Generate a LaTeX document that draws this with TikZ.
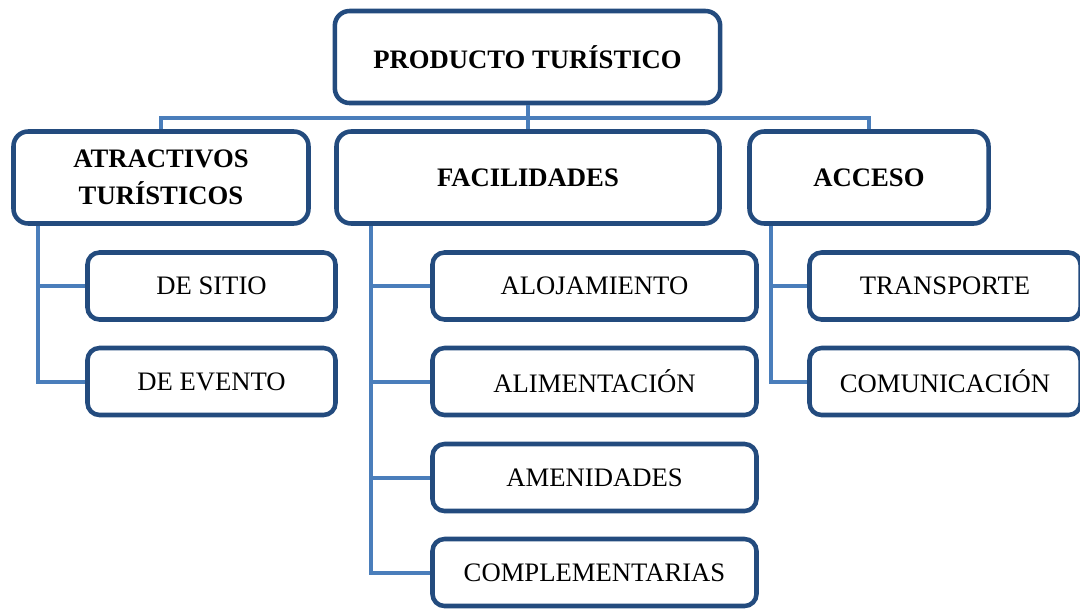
\documentclass[tikz,border=0pt]{standalone}
\usepackage{fontspec}
\setmainfont{Liberation Serif}
\usepackage{tikz}
\usetikzlibrary{positioning,calc}

\definecolor{boxblue}{HTML}{234B7E}
\definecolor{linkblue}{HTML}{4A7EBB}

\begin{document}
\begin{tikzpicture}[x=0.75pt, y=-0.75pt,
	headbox/.style={draw=boxblue, line width=3.4pt, rounded corners=11pt, fill=white, align=center, inner sep=0pt,
		font=\fontsize{20pt}{27.7pt}\selectfont\bfseries, minimum height=69pt},
	itembox/.style={draw=boxblue, line width=3.4pt, rounded corners=9pt, fill=white, align=center, inner sep=0pt,
		font=\fontsize{20pt}{24pt}\selectfont, minimum height=50.25pt},
	link/.style={draw=linkblue, line width=3pt}]
	\useasboundingbox (0,0) rectangle (1080,608);

	% level 0 and 1
	\node (prod) at (527.5,57)	[headbox, minimum width=289pt, minimum height=69pt] {PRODUCTO TURÍSTICO};
	\node (atr) at (161,177.5)	[headbox, minimum width=221.25pt] {ATRACTIVOS\\TURÍSTICOS};
	\node (fac) at (528,177.5)	[headbox, minimum width=287.25pt] {FACILIDADES};
	\node (acc) at (869,177.5)	[headbox, minimum width=179.25pt] {ACCESO};

	% level 2
	\node (sitio) at (211.5,286)	[itembox, minimum width=186pt] {DE SITIO};
	\node (evento) at (211.5,381.5)	[itembox, minimum width=186pt] {DE EVENTO};
	\node (aloj) at (594.5,286)	[itembox, minimum width=243pt] {ALOJAMIENTO};
	\node (alim) at (594.5,381.5)	[itembox, minimum width=243pt] {ALIMENTACIÓN};
	\node (amen) at (594.5,477.5)	[itembox, minimum width=243pt] {AMENIDADES};
	\node (compl) at (594.5,572.5)	[itembox, minimum width=243pt] {COMPLEMENTARIAS};
	\node (trans) at (945,286)	[itembox, minimum width=203.25pt] {TRANSPORTE};
	\node (comu) at (945,381.5)	[itembox, minimum width=203.25pt] {COMUNICACIÓN};

	\coordinate (bar) at (0,118);
	\coordinate (atrtrunk) at ([xshift=20pt]atr.south west);
	\coordinate (factrunk) at ([xshift=27.4pt]fac.south west);
	\coordinate (acctrunk) at ([xshift=17.6pt]acc.south west);

	\draw [link] (prod.south) -- (prod.south |- bar);
	\draw [link] (atr.north) |- (bar -| acc.north) -- (acc.north);
	\draw [link] (fac.north) -- (fac.north |- bar);

	\draw [link] (atrtrunk) |- (evento.west);
	\draw [link] (sitio.west) -- (sitio.west -| atrtrunk);

	\draw [link] (factrunk) |- (compl.west);
	\draw [link] (aloj.west) -- (aloj.west -| factrunk) (alim.west) -- (alim.west -| factrunk) (amen.west) -- (amen.west -| factrunk);

	\draw [link] (acctrunk) |- (comu.west);
	\draw [link] (trans.west) -- (trans.west -| acctrunk);
\end{tikzpicture}
\end{document}
